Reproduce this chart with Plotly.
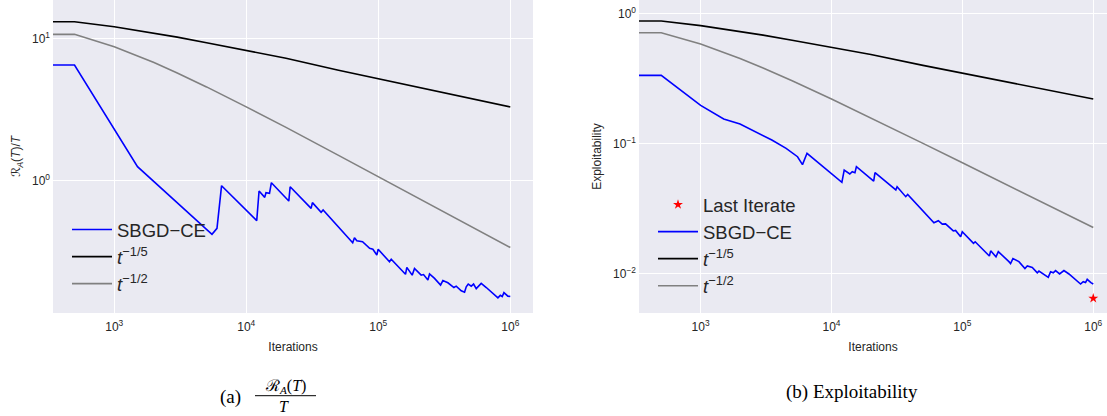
import plotly.graph_objects as go

# ---------------- data ----------------
ref_iters = [1, 500, 1000, 1500, 2000, 3000, 5000, 10000, 20000, 50000,
             100000, 200000, 500000, 1000000]

# (a) regret / T
reg_t15 = [13.1, 13.1, 12.08, 11.40, 10.91, 10.20, 9.31, 8.19, 7.25, 5.97,
           5.21, 4.54, 3.78, 3.29]
reg_t12 = [10.67, 10.67, 8.71, 7.54, 6.75, 5.70, 4.55, 3.29, 2.36, 1.50,
           1.064, 0.754, 0.477, 0.337]

reg_iters = [1, 500, 1500, 5500, 6000, 6500, 12000, 12500, 13800, 14100,
             15000, 15500, 21000, 21500, 31000, 31700, 36900, 38200, 64000,
             66000, 68800, 76000, 86000, 91000, 97500, 99800, 121600, 125300,
             160800, 164500, 180600, 188100, 211300, 220200, 237600, 244500,
             266800, 296300, 308500, 336800, 374000, 389400, 425000, 450400,
             463800, 480200, 506000, 527000, 552000, 602000, 658000, 806000,
             840000, 869000, 895000, 959000, 1000000]
reg_sbgd = [6.49, 6.49, 1.248, 0.417, 0.459, 0.917, 0.520, 0.841, 0.759, 0.818,
            0.810, 0.963, 0.715, 0.902, 0.635, 0.697, 0.595, 0.618, 0.364,
            0.395, 0.376, 0.370, 0.332, 0.327, 0.298, 0.327, 0.267, 0.278,
            0.218, 0.244, 0.215, 0.240, 0.215, 0.217, 0.199, 0.219,
            0.204, 0.183, 0.197, 0.190, 0.176, 0.180, 0.167, 0.163,
            0.178, 0.186, 0.180, 0.186, 0.173, 0.188, 0.176, 0.149,
            0.155, 0.152, 0.162, 0.153, 0.152]

# (b) exploitability
exp_t15 = [0.873, 0.873, 0.805, 0.760, 0.727, 0.680, 0.621, 0.546, 0.483,
           0.398, 0.347, 0.303, 0.252, 0.219]
exp_t12 = [0.710, 0.710, 0.580, 0.502, 0.449, 0.380, 0.303, 0.219, 0.157,
           0.0999, 0.0708, 0.0501, 0.0317, 0.0225]

exp_iters = [1, 500, 1000, 1500, 2000, 2600, 3500, 4500, 5500, 6000, 6500,
             12000, 12500, 13800, 14400, 15100, 15500, 21000, 21500, 31000,
             31700, 36900, 38200, 60600, 65500, 70200, 74400, 85200, 88700,
             97000, 99800, 121600, 125300, 160800, 164500, 180600, 188100,
             226800, 233400, 243300, 270400, 300600, 313300, 342100, 373400,
             384600, 432500, 453100, 472000, 494700, 515200, 553000, 597000,
             651900, 800000, 838000, 873000, 899000, 959000, 1000000]
exp_sbgd = [0.333, 0.333, 0.196, 0.154, 0.141, 0.124, 0.106, 0.0916, 0.0789,
            0.0686, 0.0838, 0.0501, 0.0623, 0.0581, 0.0605, 0.0595, 0.0662,
            0.0513, 0.0595, 0.0438, 0.0464, 0.0389, 0.0405, 0.0245, 0.0254,
            0.0239, 0.0240, 0.0212, 0.0214, 0.0191, 0.0209, 0.0170, 0.0175,
            0.0136, 0.0149, 0.0134, 0.0147, 0.0123, 0.0119, 0.0130, 0.0123,
            0.0109, 0.0114, 0.0111, 0.0101, 0.0104, 0.00953, 0.00931, 0.0103,
            0.0101, 0.0105, 0.00989, 0.0105, 0.00989, 0.00828, 0.00863,
            0.00850, 0.00899, 0.00848, 0.00828]

last_iter_x = [1000000]
last_iter_y = [0.00643]

# tick labels
x_tickvals = [1e3, 1e4, 1e5, 1e6]
x_ticktext = ["10<sup>3</sup>", "10<sup>4</sup>", "10<sup>5</sup>", "10<sup>6</sup>"]
reg_tickvals = [1, 10]
reg_ticktext = ["10<sup>0</sup>", "10<sup>1</sup>"]
exp_tickvals = [0.01, 0.1, 1]
exp_ticktext = ["10<sup>\u22122</sup>", "10<sup>\u22121</sup>", "10<sup>0</sup>"]

# ---------------- styling ----------------
W, H = 1107, 416
BG = "#EAEAF2"
TXT = "#262626"
FONT = "Liberation Sans, Arial, DejaVu Sans, sans-serif"
SERIF = "Liberation Serif, Times New Roman, serif"
LW = 1.6

fig = go.Figure()

T15 = "<i>t</i><sup>\u22121/5</sup>"
T12 = "<i>t</i><sup>\u22121/2</sup>"

# left panel
fig.add_trace(go.Scatter(x=reg_iters, y=reg_sbgd, mode="lines", name="SBGD\u2212CE",
                         line=dict(color="#0000FF", width=LW), legend="legend",
                         legendgroup="a1", xaxis="x", yaxis="y"))
fig.add_trace(go.Scatter(x=ref_iters, y=reg_t15, mode="lines", name=T15,
                         line=dict(color="#000000", width=LW), legend="legend",
                         legendgroup="a2", xaxis="x", yaxis="y"))
fig.add_trace(go.Scatter(x=ref_iters, y=reg_t12, mode="lines", name=T12,
                         line=dict(color="#808080", width=LW), legend="legend",
                         legendgroup="a3", xaxis="x", yaxis="y"))

# right panel
fig.add_trace(go.Scatter(x=last_iter_x, y=last_iter_y, mode="markers", name="Last Iterate",
                         marker=dict(symbol="star", color="#FF0000", size=7.5),
                         legend="legend2", legendgroup="b0", xaxis="x2", yaxis="y2"))
fig.add_trace(go.Scatter(x=exp_iters, y=exp_sbgd, mode="lines", name="SBGD\u2212CE",
                         line=dict(color="#0000FF", width=LW), legend="legend2",
                         legendgroup="b1", xaxis="x2", yaxis="y2"))
fig.add_trace(go.Scatter(x=ref_iters, y=exp_t15, mode="lines", name=T15,
                         line=dict(color="#000000", width=LW), legend="legend2",
                         legendgroup="b2", xaxis="x2", yaxis="y2"))
fig.add_trace(go.Scatter(x=ref_iters, y=exp_t12, mode="lines", name=T12,
                         line=dict(color="#808080", width=LW), legend="legend2",
                         legendgroup="b3", xaxis="x2", yaxis="y2"))

axis_common = dict(type="log", showgrid=True, automargin=False,
                   gridcolor="white", gridwidth=1, zeroline=False, showline=False,
                   ticks="", tickfont=dict(family=FONT, size=12, color=TXT))

fig.update_layout(
    width=W, height=H,
    margin=dict(l=0, r=0, t=0, b=0, autoexpand=False),
    paper_bgcolor="white",
    plot_bgcolor=BG,
    font=dict(family=FONT, color=TXT),
    xaxis=dict(domain=[53 / W, 533 / W], range=[2.536, 6.172], anchor="y",
               tickvals=x_tickvals, ticktext=x_ticktext, ticklabelstandoff=5,
               title=dict(text="Iterations", font=dict(size=12, color=TXT), standoff=9),
               **axis_common),
    yaxis=dict(domain=[1 - 313 / H, 1], range=[-0.934, 1.270], anchor="x",
               tickvals=reg_tickvals, ticktext=reg_ticktext, ticklabelstandoff=2,
               title=dict(text="\u211b<sub><i>A</i></sub>(<i>T</i>)/<i>T</i>",
                          font=dict(size=12, color=TXT), standoff=8),
               **axis_common),
    xaxis2=dict(domain=[639 / W, 1.0], range=[2.529, 6.105], anchor="y2",
                tickvals=x_tickvals, ticktext=x_ticktext, ticklabelstandoff=5,
                title=dict(text="Iterations", font=dict(size=12, color=TXT), standoff=9),
                **axis_common),
    yaxis2=dict(domain=[1 - 313 / H, 1], range=[-2.305, 0.1026], anchor="x2",
                tickvals=exp_tickvals, ticktext=exp_ticktext, ticklabelstandoff=2,
                title=dict(text="Exploitability", font=dict(size=12, color=TXT), standoff=8),
                **axis_common),
    showlegend=True,
    legend=dict(x=67 / W, y=1 - 211 / H, xanchor="left", yanchor="top",
                bgcolor="rgba(0,0,0,0)", borderwidth=0, traceorder="normal",
                tracegroupgap=2,
                font=dict(family=FONT, size=18.5, color=TXT), itemwidth=40),
    legend2=dict(x=653 / W, y=1 - 186 / H, xanchor="left", yanchor="top",
                 bgcolor="rgba(0,0,0,0)", borderwidth=0, traceorder="normal",
                 tracegroupgap=2,
                 font=dict(family=FONT, size=18.5, color=TXT), itemwidth=40),
)

# captions
cap = dict(xref="paper", yref="paper", showarrow=False, xanchor="center", yanchor="middle")
fig.add_annotation(text="(a)", x=230 / W, y=1 - 397 / H,
                   font=dict(family=SERIF, size=19, color="black"), **cap)
fig.add_annotation(text="\u211b<sub><i>A</i></sub>(<i>T</i>)", x=285 / W, y=1 - 386 / H,
                   font=dict(family=SERIF, size=16, color="black"), **cap)
fig.add_annotation(text="<i>T</i>", x=284 / W, y=1 - 406 / H,
                   font=dict(family=SERIF, size=16, color="black"), **cap)
fig.add_shape(type="line", xref="paper", yref="paper", x0=255 / W, x1=316 / W,
              y0=1 - 395.7 / H, y1=1 - 395.7 / H, line=dict(color="black", width=1))
fig.add_annotation(text="(b) Exploitability", x=852 / W, y=1 - 392 / H,
                   font=dict(family=SERIF, size=19, color="black"), **cap)

fig.write_html("out.html", config={"displayModeBar": False},
               post_script="document.body.style.margin='0';")
